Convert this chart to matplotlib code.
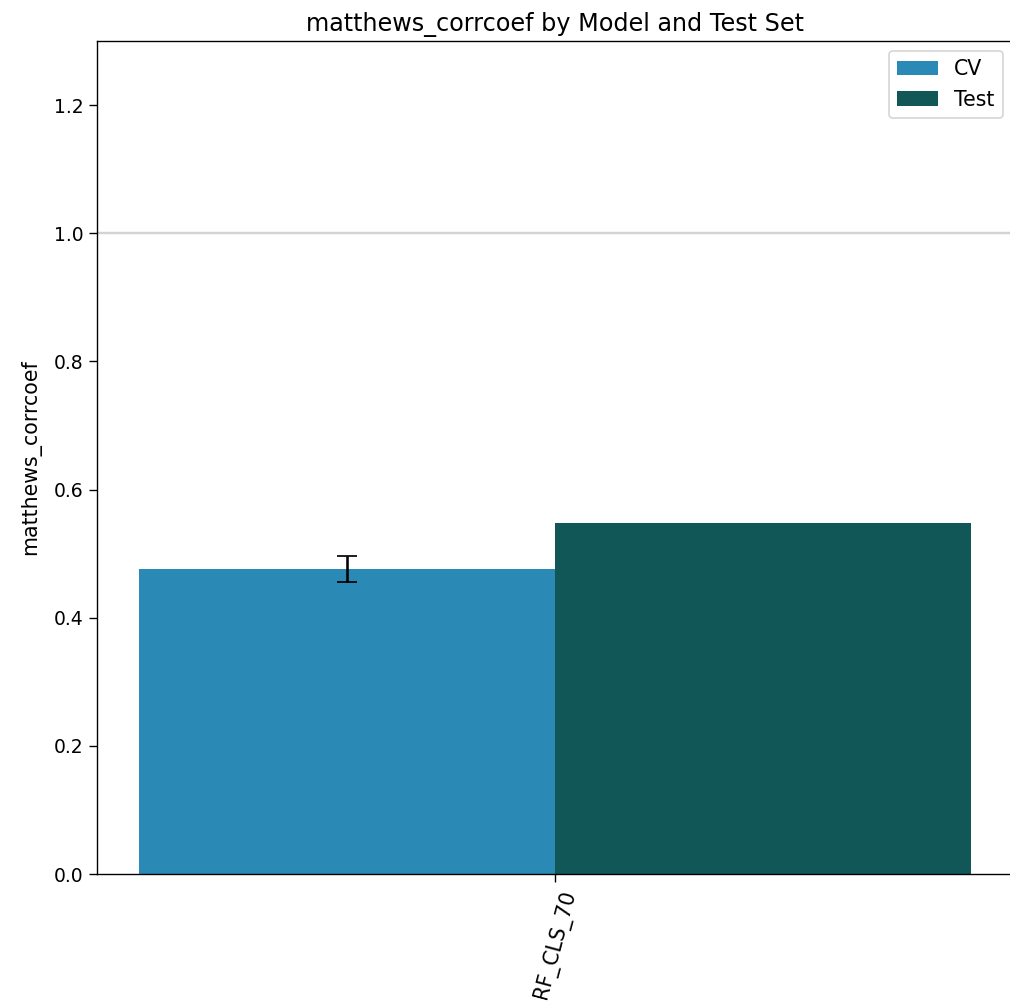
import matplotlib.pyplot as plt
import numpy as np

# data
models = ["RF_CLS_70"]
cv_mean = [0.476]
cv_std = [0.021]
test_vals = [0.548]

metric = "matthews_corrcoef"

dpi = 123
fig = plt.figure(figsize=(1010 / dpi, 1003 / dpi), dpi=dpi)
ax = fig.add_axes([0.096, 0.1286, 0.907, 0.8305])

x = np.arange(len(models))
w = 0.4
ax.bar(x - w / 2, cv_mean, w, yerr=cv_std, capsize=6, color="#2b8ab5", label="CV")
ax.bar(x + w / 2, test_vals, w, color="#115758", label="Test")
ax.axhline(1.0, color="lightgray", linewidth=1.4, zorder=0)

ax.set_ylim(0, 1.3)
ax.set_xticks(x)
ax.set_xticklabels(models, rotation=75, fontsize=12)
ax.tick_params(axis="y", labelsize=11, length=4.5)
ax.tick_params(axis="x", length=4.5)
ax.set_ylabel(metric, fontsize=12, labelpad=7)
ax.set_title(f"{metric} by Model and Test Set", fontsize=14)
ax.legend(loc="upper right", fontsize=12)

fig.savefig("out.png", dpi=dpi)
